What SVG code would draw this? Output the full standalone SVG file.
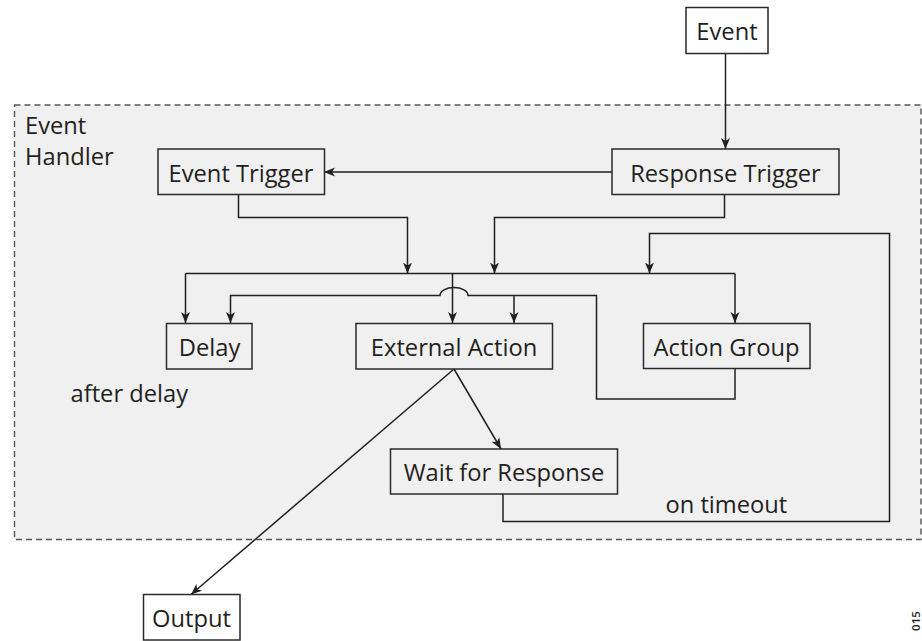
<svg xmlns="http://www.w3.org/2000/svg" width="922" height="641" viewBox="0 0 922 641">
  <style>
    .box { fill: #ffffff; stroke: #2a2a2a; stroke-width: 1.5; }
    .inbox { fill: #f0f0f0; stroke: #2a2a2a; stroke-width: 1.5; }
    .lbl { font-family: "Open Sans", "Noto Sans", sans-serif; font-size: 23.7px; fill: #231f20; }
    .mid { text-anchor: middle; }
    .wire { fill: none; stroke: #231f20; stroke-width: 1.5; }
    .frame { fill: #f0f0f0; stroke: #555555; stroke-width: 1.4; stroke-dasharray: 6 4; }
  </style>
  <defs>
    <marker id="arrow" markerUnits="userSpaceOnUse" markerWidth="12" markerHeight="10" refX="11" refY="5" orient="auto">
      <path d="M0,0.5 L11,5 L0,9.5 L3,5 z" fill="#231f20"/>
    </marker>
  </defs>

  <rect width="922" height="641" fill="#ffffff"/>

  <!-- Event Handler container -->
  <g id="event-handler">
    <rect class="frame" x="14.5" y="105" width="906.5" height="434.5"/>
    <text class="lbl" x="25" y="134">Event</text>
    <text class="lbl" x="25" y="165">Handler</text>
  </g>

  <!-- Connectors -->
  <g id="connectors">
    <!-- Event -> Response Trigger -->
    <path class="wire" d="M725.5,53 V149" marker-end="url(#arrow)"/>
    <!-- Response Trigger -> Event Trigger -->
    <path class="wire" d="M612,172 H324" marker-end="url(#arrow)"/>
    <!-- Event Trigger -> bus -->
    <path class="wire" d="M238.5,194 V217.5 H407.5 V273.5" marker-end="url(#arrow)"/>
    <!-- Response Trigger -> bus -->
    <path class="wire" d="M724.5,194 V217.5 H494.5 V273.5" marker-end="url(#arrow)"/>
    <!-- timeout loop: Wait for Response -> bus -->
    <path class="wire" d="M503,494 V521.5 H889.5 V233.5 H649.5 V273.5" marker-end="url(#arrow)"/>
    <!-- bus -->
    <path class="wire" d="M185.5,273.5 H735"/>
    <path class="wire" d="M185.5,273.5 V323" marker-end="url(#arrow)"/>
    <path class="wire" d="M452.5,273.5 V323" marker-end="url(#arrow)"/>
    <path class="wire" d="M735,273.5 V323" marker-end="url(#arrow)"/>
    <!-- Action Group loop-back -->
    <path class="wire" d="M735,368.5 V399 H596.5 V295.5 H468 A14,8 0 0 0 440,295.5 H230.5 V323" marker-end="url(#arrow)"/>
    <path class="wire" d="M514,295.5 V323" marker-end="url(#arrow)"/>
    <!-- External Action -> Wait for Response -->
    <path class="wire" d="M454,369 L501,449" marker-end="url(#arrow)"/>
    <!-- External Action -> Output -->
    <path class="wire" d="M454,369 L191,594.5" marker-end="url(#arrow)"/>
  </g>

  <!-- Nodes -->
  <g id="event">
    <rect class="box" x="686" y="7.5" width="82" height="46"/>
    <text class="lbl mid" x="727" y="40">Event</text>
  </g>
  <g id="response-trigger">
    <rect class="inbox" x="612" y="149" width="227" height="45.5"/>
    <text class="lbl mid" x="725.5" y="181.5">Response Trigger</text>
  </g>
  <g id="event-trigger">
    <rect class="inbox" x="158" y="149" width="166.5" height="45.5"/>
    <text class="lbl mid" x="241" y="181.5">Event Trigger</text>
  </g>
  <g id="delay">
    <rect class="inbox" x="166.5" y="323.5" width="85.5" height="45.5"/>
    <text class="lbl mid" x="209.5" y="356">Delay</text>
  </g>
  <g id="external-action">
    <rect class="inbox" x="356" y="323.5" width="196.5" height="45.5"/>
    <text class="lbl mid" x="454" y="356">External Action</text>
  </g>
  <g id="action-group">
    <rect class="inbox" x="643.5" y="323.5" width="166.5" height="45"/>
    <text class="lbl mid" x="726.5" y="356">Action Group</text>
  </g>
  <g id="wait-for-response">
    <rect class="inbox" x="390.5" y="449" width="227" height="45"/>
    <text class="lbl mid" x="504" y="481">Wait for Response</text>
  </g>
  <g id="output">
    <rect class="box" x="143.5" y="594.5" width="96.5" height="45.5"/>
    <text class="lbl mid" x="191.5" y="626.5">Output</text>
  </g>

  <!-- Edge labels -->
  <text class="lbl" x="70.5" y="401.5">after delay</text>
  <text class="lbl" x="665.5" y="512.5">on timeout</text>

  <!-- Figure number -->
  <text x="920" y="621" transform="rotate(-90 920 621)" text-anchor="middle" font-family="'Open Sans', 'Noto Sans', sans-serif" font-size="11.5" font-weight="600" fill="#231f20" dy="-0.5">015</text>
</svg>
